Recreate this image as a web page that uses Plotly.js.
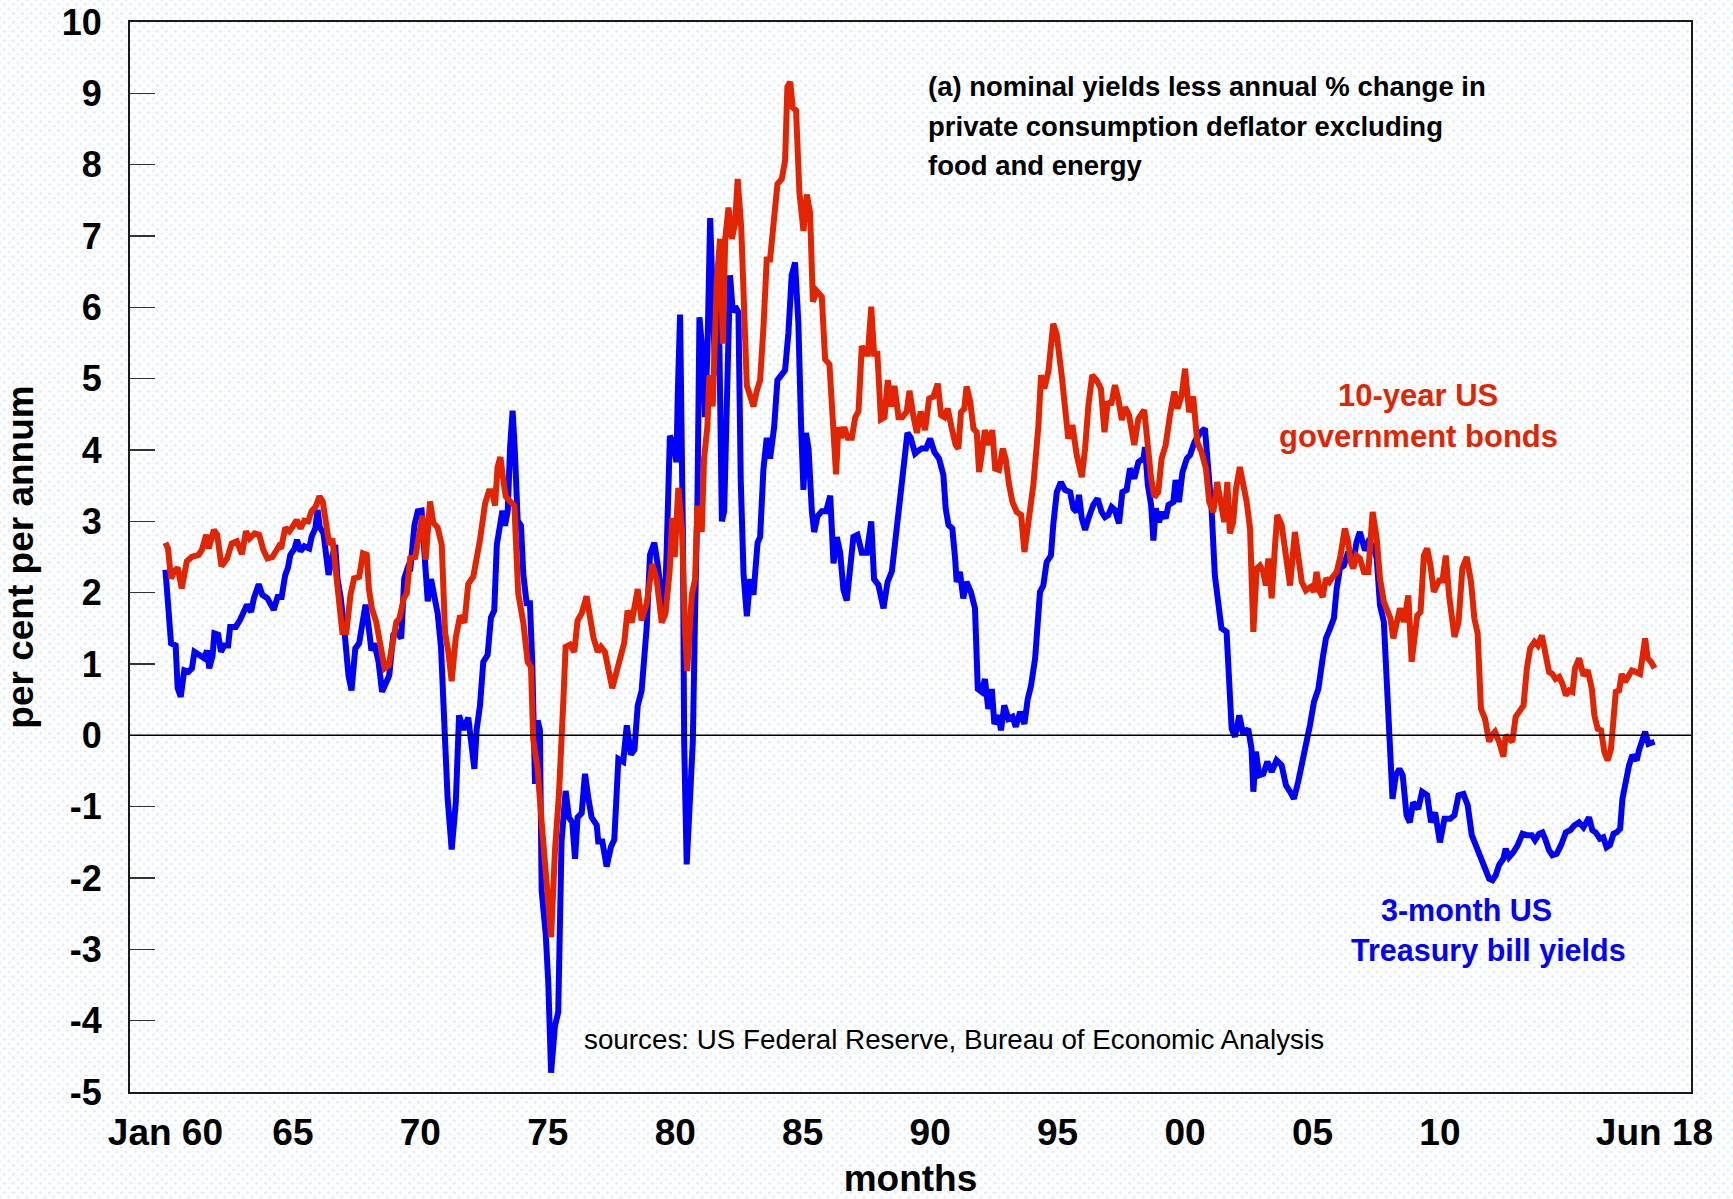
<!DOCTYPE html>
<html>
<head>
<meta charset="utf-8">
<script src="https://cdn.plot.ly/plotly-3.0.1.min.js"></script>
<style>
  html, body { margin: 0; padding: 0; }
  body {
    width: 1733px; height: 1199px; overflow: hidden;
    background-color: #ffffff;
    background-image:
      radial-gradient(circle, #d9ecff 1.1px, transparent 1.4px),
      radial-gradient(circle, #d9ecff 1.1px, transparent 1.4px);
    background-size: 9px 9px, 9px 9px;
    background-position: 0 0, 4.5px 4.5px;
  }
  #chart { width: 1733px; height: 1199px; }
</style>
</head>
<body>
<div id="chart"></div>
<script>
// ---- data (decimal years, per cent per annum) ----
const bondYears = [1960.00,1960.10,1960.22,1960.35,1960.48,1960.64,1960.84,1961.03,1961.30,1961.43,1961.60,1961.70,1961.90,1962.03,1962.20,1962.42,1962.60,1962.80,1963.00,1963.16,1963.30,1963.50,1963.68,1963.84,1964.00,1964.20,1964.45,1964.54,1964.70,1964.86,1965.00,1965.15,1965.30,1965.45,1965.60,1965.73,1965.90,1966.04,1966.17,1966.30,1966.43,1966.55,1966.66,1966.75,1966.94,1967.10,1967.26,1967.40,1967.60,1967.75,1967.90,1967.98,1968.10,1968.27,1968.44,1968.60,1968.76,1968.92,1969.06,1969.18,1969.35,1969.47,1969.60,1969.80,1969.92,1970.08,1970.21,1970.38,1970.51,1970.68,1970.84,1970.97,1971.10,1971.23,1971.39,1971.56,1971.73,1971.88,1972.08,1972.21,1972.34,1972.54,1972.69,1972.82,1972.93,1973.03,1973.14,1973.24,1973.35,1973.52,1973.69,1973.84,1974.04,1974.21,1974.34,1974.43,1974.60,1974.76,1974.96,1975.13,1975.28,1975.44,1975.61,1975.70,1975.87,1976.04,1976.17,1976.33,1976.52,1976.66,1976.79,1976.96,1977.09,1977.24,1977.37,1977.53,1977.70,1977.87,1978.00,1978.13,1978.29,1978.53,1978.68,1978.88,1979.10,1979.27,1979.47,1979.62,1979.78,1979.88,1979.98,1980.12,1980.27,1980.38,1980.47,1980.65,1980.78,1980.87,1981.04,1981.13,1981.26,1981.34,1981.47,1981.63,1981.76,1981.87,1981.96,1982.09,1982.22,1982.35,1982.45,1982.59,1982.70,1982.81,1982.94,1983.07,1983.20,1983.33,1983.46,1983.59,1983.72,1983.88,1984.01,1984.18,1984.31,1984.40,1984.51,1984.61,1984.74,1984.87,1985.03,1985.16,1985.29,1985.40,1985.55,1985.75,1985.88,1986.05,1986.21,1986.31,1986.40,1986.51,1986.63,1986.77,1986.93,1987.06,1987.19,1987.32,1987.45,1987.56,1987.69,1987.80,1987.93,1988.07,1988.21,1988.34,1988.47,1988.60,1988.76,1988.91,1989.08,1989.19,1989.35,1989.48,1989.63,1989.80,1989.96,1990.13,1990.30,1990.43,1990.56,1990.69,1990.85,1991.00,1991.11,1991.21,1991.34,1991.43,1991.57,1991.70,1991.83,1991.92,1992.02,1992.15,1992.31,1992.44,1992.55,1992.70,1992.85,1992.96,1993.10,1993.23,1993.40,1993.57,1993.70,1993.85,1994.05,1994.25,1994.35,1994.48,1994.64,1994.83,1994.97,1995.16,1995.29,1995.42,1995.58,1995.75,1995.95,1996.08,1996.21,1996.36,1996.53,1996.70,1996.84,1996.97,1997.10,1997.25,1997.38,1997.52,1997.65,1997.80,1998.01,1998.17,1998.40,1998.53,1998.67,1998.80,1998.95,1999.08,1999.24,1999.41,1999.58,1999.71,1999.87,2000.00,2000.16,2000.32,2000.48,2000.65,2000.82,2000.95,2001.11,2001.26,2001.40,2001.54,2001.66,2001.76,2001.89,2002.00,2002.15,2002.28,2002.42,2002.55,2002.61,2002.68,2002.81,2002.94,2003.07,2003.17,2003.27,2003.40,2003.53,2003.62,2003.79,2003.96,2004.12,2004.31,2004.44,2004.58,2004.74,2004.93,2005.06,2005.16,2005.29,2005.40,2005.53,2005.66,2005.79,2005.95,2006.10,2006.27,2006.40,2006.50,2006.60,2006.73,2006.86,2007.02,2007.19,2007.36,2007.52,2007.65,2007.80,2007.93,2008.06,2008.17,2008.33,2008.43,2008.59,2008.76,2008.89,2009.02,2009.11,2009.24,2009.37,2009.50,2009.63,2009.76,2009.97,2010.10,2010.23,2010.36,2010.57,2010.73,2010.88,2011.05,2011.22,2011.35,2011.48,2011.61,2011.77,2011.93,2012.03,2012.16,2012.32,2012.49,2012.58,2012.71,2012.84,2012.97,2013.14,2013.28,2013.41,2013.54,2013.71,2013.84,2014.00,2014.15,2014.28,2014.41,2014.54,2014.68,2014.81,2014.94,2015.07,2015.20,2015.30,2015.46,2015.63,2015.80,2015.96,2016.06,2016.19,2016.32,2016.45,2016.58,2016.71,2016.81,2016.90,2017.03,2017.13,2017.26,2017.39,2017.53,2017.68,2017.85,2017.94,2018.05,2018.15,2018.28,2018.42];
const bondReal = [2.70,2.62,2.20,2.30,2.35,2.06,2.44,2.50,2.53,2.60,2.81,2.62,2.88,2.81,2.37,2.48,2.69,2.72,2.54,2.86,2.76,2.83,2.81,2.60,2.48,2.50,2.65,2.62,2.91,2.86,2.93,3.02,2.90,3.01,3.00,3.14,3.21,3.35,3.28,2.93,2.67,2.76,2.39,1.99,1.45,1.45,1.97,2.20,2.22,2.55,2.53,2.06,1.78,1.59,1.19,0.94,0.98,1.36,1.59,1.64,1.92,1.99,2.48,2.50,2.76,3.08,2.46,3.28,2.98,2.91,2.67,1.44,1.17,0.76,1.37,1.68,1.58,2.12,2.23,2.46,2.74,3.25,3.42,3.42,3.22,3.76,3.90,3.62,3.35,3.28,3.22,1.99,1.58,1.03,0.96,-0.06,-0.47,-1.22,-2.18,-2.83,-1.63,-0.81,0.48,1.24,1.27,1.17,1.61,1.71,1.95,1.65,1.37,1.17,1.24,1.17,0.96,0.66,0.89,1.10,1.30,1.75,1.58,2.05,1.61,1.85,2.40,2.19,1.58,1.71,2.30,3.05,2.50,3.47,2.85,1.53,0.90,1.97,2.19,3.22,2.85,3.88,4.32,5.05,4.61,6.37,6.96,5.49,6.96,7.40,6.96,7.18,7.80,7.11,6.23,4.90,4.76,4.61,4.83,4.98,5.71,6.67,6.67,7.25,7.73,7.80,8.06,9.09,9.16,8.80,8.76,7.62,7.07,7.58,7.33,6.08,6.23,6.15,5.27,5.20,4.32,3.66,4.32,4.17,4.32,4.17,4.17,4.46,4.54,5.46,5.35,5.35,6.01,5.35,5.35,4.43,4.46,4.98,4.61,4.90,4.46,4.46,4.54,4.83,4.46,4.24,4.54,4.28,4.72,4.75,4.93,4.49,4.46,4.58,4.30,4.07,4.02,4.53,4.58,4.89,4.68,4.30,4.25,3.69,3.93,4.28,4.07,4.28,3.74,3.72,4.02,3.88,3.51,3.27,3.13,3.09,2.57,3.04,3.51,4.35,5.05,4.86,5.10,5.77,5.61,5.05,4.63,4.16,4.35,3.93,3.62,4.02,4.63,5.05,4.98,4.86,4.25,4.68,4.63,4.91,4.72,4.42,4.60,4.49,4.07,4.44,4.56,4.07,3.60,3.34,3.41,3.88,4.07,4.49,4.82,4.58,4.77,5.14,4.53,4.75,4.11,3.97,3.74,3.27,3.13,3.55,3.23,2.99,3.55,2.83,2.99,3.46,3.76,3.51,3.27,2.90,2.15,1.45,2.34,2.38,2.29,2.10,2.48,1.92,2.66,3.09,2.95,2.57,2.10,2.85,2.57,2.15,2.03,2.08,2.01,2.29,2.01,1.94,2.20,2.15,2.22,2.29,2.52,2.90,2.71,2.43,2.34,2.52,2.48,2.29,2.29,3.13,2.76,2.20,1.87,1.73,1.64,1.36,1.68,1.78,1.59,1.96,1.03,1.50,1.68,1.73,2.52,2.62,2.38,2.01,2.17,2.17,2.52,1.96,1.38,1.59,2.34,2.50,2.15,1.64,1.43,0.37,0.23,-0.09,0.00,0.05,-0.09,-0.30,0.00,-0.05,-0.09,0.26,0.37,0.42,0.94,1.22,1.31,1.26,1.40,1.17,0.89,0.86,0.79,0.82,0.72,0.56,0.63,0.61,0.94,1.08,0.84,0.91,0.65,0.28,0.09,0.07,-0.23,-0.35,-0.19,0.23,0.61,0.63,0.86,0.75,0.82,0.91,0.89,0.86,1.08,1.36,1.08,1.03,0.94];

const billYears = [1960.00,1960.12,1960.22,1960.40,1960.48,1960.60,1960.74,1960.90,1961.04,1961.14,1961.34,1961.53,1961.63,1961.72,1961.85,1961.92,1962.07,1962.18,1962.30,1962.46,1962.54,1962.76,1962.93,1963.08,1963.20,1963.36,1963.47,1963.66,1963.80,1964.00,1964.10,1964.25,1964.40,1964.56,1964.70,1964.80,1964.90,1965.07,1965.16,1965.30,1965.45,1965.64,1965.74,1965.88,1965.97,1966.05,1966.20,1966.30,1966.40,1966.50,1966.66,1966.75,1966.88,1967.05,1967.18,1967.30,1967.45,1967.60,1967.75,1967.85,1967.98,1968.08,1968.20,1968.36,1968.50,1968.62,1968.78,1968.94,1969.07,1969.25,1969.37,1969.50,1969.60,1969.77,1969.90,1970.05,1970.16,1970.29,1970.42,1970.55,1970.68,1970.81,1970.94,1971.07,1971.23,1971.39,1971.52,1971.69,1971.88,1972.01,1972.12,1972.21,1972.34,1972.47,1972.64,1972.77,1972.90,1973.00,1973.12,1973.22,1973.32,1973.43,1973.52,1973.62,1973.71,1973.82,1973.95,1974.04,1974.17,1974.30,1974.39,1974.50,1974.60,1974.69,1974.76,1974.92,1975.02,1975.13,1975.28,1975.41,1975.54,1975.70,1975.83,1975.96,1976.07,1976.17,1976.33,1976.46,1976.59,1976.72,1976.92,1976.98,1977.14,1977.31,1977.48,1977.61,1977.77,1977.96,1978.10,1978.26,1978.40,1978.53,1978.68,1978.79,1978.88,1979.01,1979.18,1979.31,1979.44,1979.57,1979.66,1979.79,1979.92,1980.05,1980.10,1980.19,1980.30,1980.35,1980.45,1980.56,1980.69,1980.78,1980.87,1980.95,1981.04,1981.11,1981.17,1981.26,1981.37,1981.47,1981.57,1981.70,1981.76,1981.83,1981.92,1982.02,1982.15,1982.26,1982.35,1982.48,1982.57,1982.68,1982.81,1982.94,1983.07,1983.23,1983.33,1983.46,1983.59,1983.72,1983.88,1984.01,1984.18,1984.31,1984.44,1984.57,1984.70,1984.83,1984.94,1985.03,1985.13,1985.23,1985.36,1985.45,1985.58,1985.75,1985.92,1986.08,1986.21,1986.34,1986.47,1986.60,1986.73,1986.86,1986.99,1987.15,1987.32,1987.52,1987.69,1987.80,1987.97,1988.17,1988.33,1988.50,1988.67,1988.82,1988.95,1989.11,1989.24,1989.41,1989.54,1989.67,1989.84,1990.00,1990.17,1990.35,1990.52,1990.61,1990.72,1990.87,1990.98,1991.04,1991.17,1991.30,1991.43,1991.60,1991.76,1991.87,1992.02,1992.15,1992.28,1992.42,1992.52,1992.68,1992.78,1992.91,1993.07,1993.23,1993.36,1993.53,1993.70,1993.83,1993.96,1994.12,1994.31,1994.44,1994.57,1994.74,1994.83,1994.97,1995.13,1995.29,1995.49,1995.62,1995.75,1995.84,1995.95,1996.08,1996.21,1996.40,1996.57,1996.73,1996.86,1996.99,1997.12,1997.25,1997.41,1997.54,1997.71,1997.84,1998.01,1998.17,1998.37,1998.43,1998.54,1998.67,1998.76,1998.85,1998.98,1999.11,1999.24,1999.35,1999.54,1999.63,1999.76,1999.90,2000.07,2000.20,2000.37,2000.50,2000.61,2000.78,2000.91,2001.04,2001.17,2001.30,2001.43,2001.63,2001.74,2001.83,2001.96,2002.13,2002.28,2002.48,2002.61,2002.68,2002.78,2002.91,2003.07,2003.23,2003.40,2003.59,2003.79,2003.96,2004.12,2004.27,2004.44,2004.64,2004.77,2004.90,2005.06,2005.23,2005.40,2005.53,2005.69,2005.84,2005.95,2006.08,2006.23,2006.40,2006.60,2006.73,2006.86,2007.06,2007.19,2007.36,2007.52,2007.65,2007.80,2007.93,2008.04,2008.14,2008.27,2008.41,2008.54,2008.69,2008.82,2008.95,2009.15,2009.30,2009.50,2009.65,2009.81,2010.00,2010.18,2010.40,2010.57,2010.73,2010.92,2011.09,2011.25,2011.41,2011.61,2011.77,2011.93,2012.06,2012.19,2012.32,2012.49,2012.58,2012.71,2012.88,2013.05,2013.24,2013.41,2013.60,2013.73,2013.89,2014.02,2014.15,2014.28,2014.41,2014.58,2014.75,2014.94,2015.11,2015.28,2015.46,2015.63,2015.85,2015.98,2016.11,2016.28,2016.41,2016.54,2016.67,2016.81,2016.94,2017.07,2017.16,2017.29,2017.42,2017.55,2017.72,2017.81,2017.94,2018.05,2018.18,2018.42];
const billReal = [2.32,1.87,1.29,1.26,0.66,0.54,0.91,0.89,0.94,1.17,1.12,1.08,1.19,0.94,1.12,1.43,1.41,1.17,1.26,1.26,1.52,1.52,1.62,1.73,1.83,1.73,1.92,2.12,1.97,1.92,1.85,1.76,1.94,1.94,2.25,2.34,2.53,2.62,2.74,2.58,2.65,2.62,2.79,2.90,3.16,2.93,2.83,2.58,2.25,2.44,2.67,2.20,1.92,1.36,0.84,0.63,1.22,1.29,1.57,1.83,1.50,1.19,1.29,1.03,0.61,0.70,0.84,1.41,1.45,1.36,2.20,2.34,2.30,2.95,3.14,3.15,2.46,1.88,2.19,1.92,1.71,1.24,-0.06,-0.88,-1.60,-0.95,0.28,0.08,0.25,-0.13,-0.47,0.08,0.42,1.03,1.13,1.65,1.75,2.67,2.94,3.15,2.94,3.15,4.03,4.55,3.97,3.01,2.94,2.26,1.85,1.85,1.03,-0.68,0.21,0.08,-2.18,-2.79,-3.47,-4.73,-4.08,-3.88,-1.49,-0.78,-1.15,-1.22,-1.73,-1.15,-1.09,-0.54,-0.88,-1.15,-1.26,-1.49,-1.49,-1.84,-1.56,-1.46,-0.33,-0.37,0.14,-0.27,-0.20,0.42,0.62,1.03,1.51,2.53,2.70,2.40,1.99,1.65,2.53,4.20,4.10,3.83,4.78,5.90,2.85,-0.09,-1.81,-0.97,-0.09,1.75,3.22,5.86,5.35,5.20,4.46,5.35,7.25,6.08,5.05,6.30,4.32,3.00,3.14,5.05,6.45,5.93,6.01,5.93,3.58,2.26,1.67,2.19,1.97,2.70,2.78,3.73,4.17,3.88,4.32,4.98,5.05,5.12,5.64,6.45,6.63,5.79,4.32,3.44,4.24,4.02,3.14,2.85,3.07,3.14,3.14,3.36,2.41,2.78,2.56,2.04,1.89,2.41,2.78,2.81,2.56,2.56,3.00,2.19,2.11,1.78,2.15,2.30,2.85,3.29,3.66,4.24,4.17,3.95,3.99,4.02,4.02,4.16,3.97,3.88,3.65,3.18,2.95,2.90,2.48,2.15,2.29,1.92,2.15,2.01,1.78,0.65,0.61,0.79,0.37,0.65,0.16,0.28,0.07,0.42,0.23,0.26,0.12,0.33,0.16,0.51,0.70,1.08,2.01,2.10,2.43,2.52,2.95,3.41,3.55,3.44,3.41,3.18,3.13,3.37,3.04,2.88,3.04,3.23,3.32,3.13,3.06,3.09,3.20,3.16,2.97,3.41,3.44,3.74,3.60,3.83,3.88,4.04,3.51,3.23,2.73,3.18,2.99,3.13,3.04,3.23,3.27,3.58,3.27,3.69,3.88,3.93,4.11,4.18,4.25,4.30,3.74,3.18,2.24,1.78,1.50,1.45,0.61,0.09,-0.02,0.28,0.02,0.09,-0.19,-0.79,-0.23,-0.56,-0.54,-0.37,-0.51,-0.35,-0.42,-0.70,-0.79,-0.89,-0.65,-0.33,-0.09,0.14,0.47,0.65,1.08,1.36,1.50,1.64,2.06,2.34,2.38,2.57,2.43,2.71,2.85,2.59,2.71,2.66,2.48,1.82,1.59,0.65,0.09,-0.89,-0.56,-0.47,-0.56,-1.12,-1.22,-0.94,-1.03,-0.79,-0.84,-1.22,-1.08,-1.50,-1.17,-1.17,-1.12,-0.84,-0.82,-0.98,-1.40,-1.54,-1.71,-1.82,-2.01,-2.03,-1.96,-1.82,-1.73,-1.59,-1.71,-1.64,-1.54,-1.38,-1.40,-1.40,-1.47,-1.38,-1.36,-1.47,-1.61,-1.68,-1.66,-1.54,-1.36,-1.33,-1.26,-1.22,-1.29,-1.15,-1.33,-1.36,-1.45,-1.43,-1.57,-1.54,-1.38,-1.36,-1.31,-0.89,-0.61,-0.42,-0.28,-0.35,-0.21,-0.09,0.05,-0.12,-0.09];

const xTickVals = [1960, 1965, 1970, 1975, 1980, 1985, 1990, 1995, 2000, 2005, 2010, 2018.417];
const xTickText = ['Jan 60', '65', '70', '75', '80', '85', '90', '95', '00', '05', '10', 'Jun 18'];
const yTickVals = [-5, -4, -3, -2, -1, 0, 1, 2, 3, 4, 5, 6, 7, 8, 9, 10];
const yTickText = ['-5', '-4', '-3', '-2', '-1', '0', '1', '2', '3', '4', '5', '6', '7', '8', '9', '10'];

const noteLines = ['(a) nominal yields less annual % change in',
                   'private consumption deflator excluding',
                   'food and energy'];
const bondLabel = ['10-year US', 'government bonds'];
const billLabel = ['3-month US', 'Treasury bill yields'];
const sourceText = 'sources: US Federal Reserve, Bureau of Economic Analysis';

const RED = '#e32400';
const BLUE = '#0000ff';
const FONT = '"Liberation Sans", Arial, Helvetica, sans-serif';

const traces = [
  { x: billYears, y: billReal, type: 'scatter', mode: 'lines', name: '3-month US Treasury bill yields',
    line: { color: BLUE, width: 6, shape: 'linear' }, hoverinfo: 'x+y' },
  { x: bondYears, y: bondReal, type: 'scatter', mode: 'lines', name: '10-year US government bonds',
    line: { color: RED, width: 6, shape: 'linear' }, hoverinfo: 'x+y' }
];

const annotations = [];
const noteY = [9.095, 8.535, 7.99];
noteLines.forEach((t, i) => annotations.push({
  text: '<b>' + t + '</b>', x: 1989.84, y: noteY[i], xref: 'x', yref: 'y',
  xanchor: 'left', yanchor: 'middle', showarrow: false,
  font: { family: FONT, size: 27.5, color: '#000000' }
}));
const bondY = [4.77, 4.195];
bondLabel.forEach((t, i) => annotations.push({
  text: '<b>' + t + '</b>', x: 2009.14, y: bondY[i], xref: 'x', yref: 'y',
  xanchor: 'center', yanchor: 'middle', showarrow: false,
  font: { family: FONT, size: 31, color: RED }
}));
const billX = [2011.04, 2011.9];
const billY = [-2.454, -3.01];
billLabel.forEach((t, i) => annotations.push({
  text: '<b>' + t + '</b>', x: billX[i], y: billY[i], xref: 'x', yref: 'y',
  xanchor: 'center', yanchor: 'middle', showarrow: false,
  font: { family: FONT, size: 30.5, color: BLUE }
}));
annotations.push({
  text: sourceText, x: 1976.36, y: -4.27, xref: 'x', yref: 'y',
  xanchor: 'left', yanchor: 'middle', showarrow: false,
  font: { family: FONT, size: 27.8, color: '#000000' }
});

const layout = {
  width: 1733, height: 1199,
  margin: { l: 130, r: 42, t: 22, b: 107, pad: 0 },
  paper_bgcolor: 'rgba(0,0,0,0)',
  plot_bgcolor: 'rgba(0,0,0,0)',
  showlegend: false,
  font: { family: FONT, color: '#000000' },
  xaxis: {
    type: 'linear', range: [1958.61, 2019.85], fixedrange: true,
    tickmode: 'array', tickvals: xTickVals, ticktext: xTickText,
    ticks: '', showgrid: false, zeroline: false,
    showline: true, mirror: true, linecolor: '#1a1a1a', linewidth: 2,
    tickfont: { family: FONT, size: 37, color: '#000000', weight: 'bold' },
    ticklabelstandoff: 7,
    title: { text: '<b>months</b>', font: { family: FONT, size: 37, color: '#000000' }, standoff: 20 }
  },
  yaxis: {
    range: [-5, 10], fixedrange: true,
    tickmode: 'array', tickvals: yTickVals, ticktext: yTickText,
    ticks: 'inside', ticklen: 25, tickwidth: 1.5, tickcolor: '#333333',
    showgrid: false, zeroline: false,
    showline: true, mirror: true, linecolor: '#1a1a1a', linewidth: 2,
    tickfont: { family: FONT, size: 36, color: '#000000', weight: 'bold' },
    ticklabelstandoff: 19,
    title: { text: '<b>per cent per annum</b>', font: { family: FONT, size: 37, color: '#000000' }, standoff: 20 }
  },
  shapes: [
    { type: 'line', xref: 'paper', yref: 'y', x0: 0, x1: 1, y0: 0, y1: 0,
      line: { color: '#000000', width: 1.5 }, layer: 'above' }
  ],
  annotations: annotations
};

Plotly.newPlot('chart', traces, layout, { displayModeBar: false, staticPlot: true });
</script>
</body>
</html>
